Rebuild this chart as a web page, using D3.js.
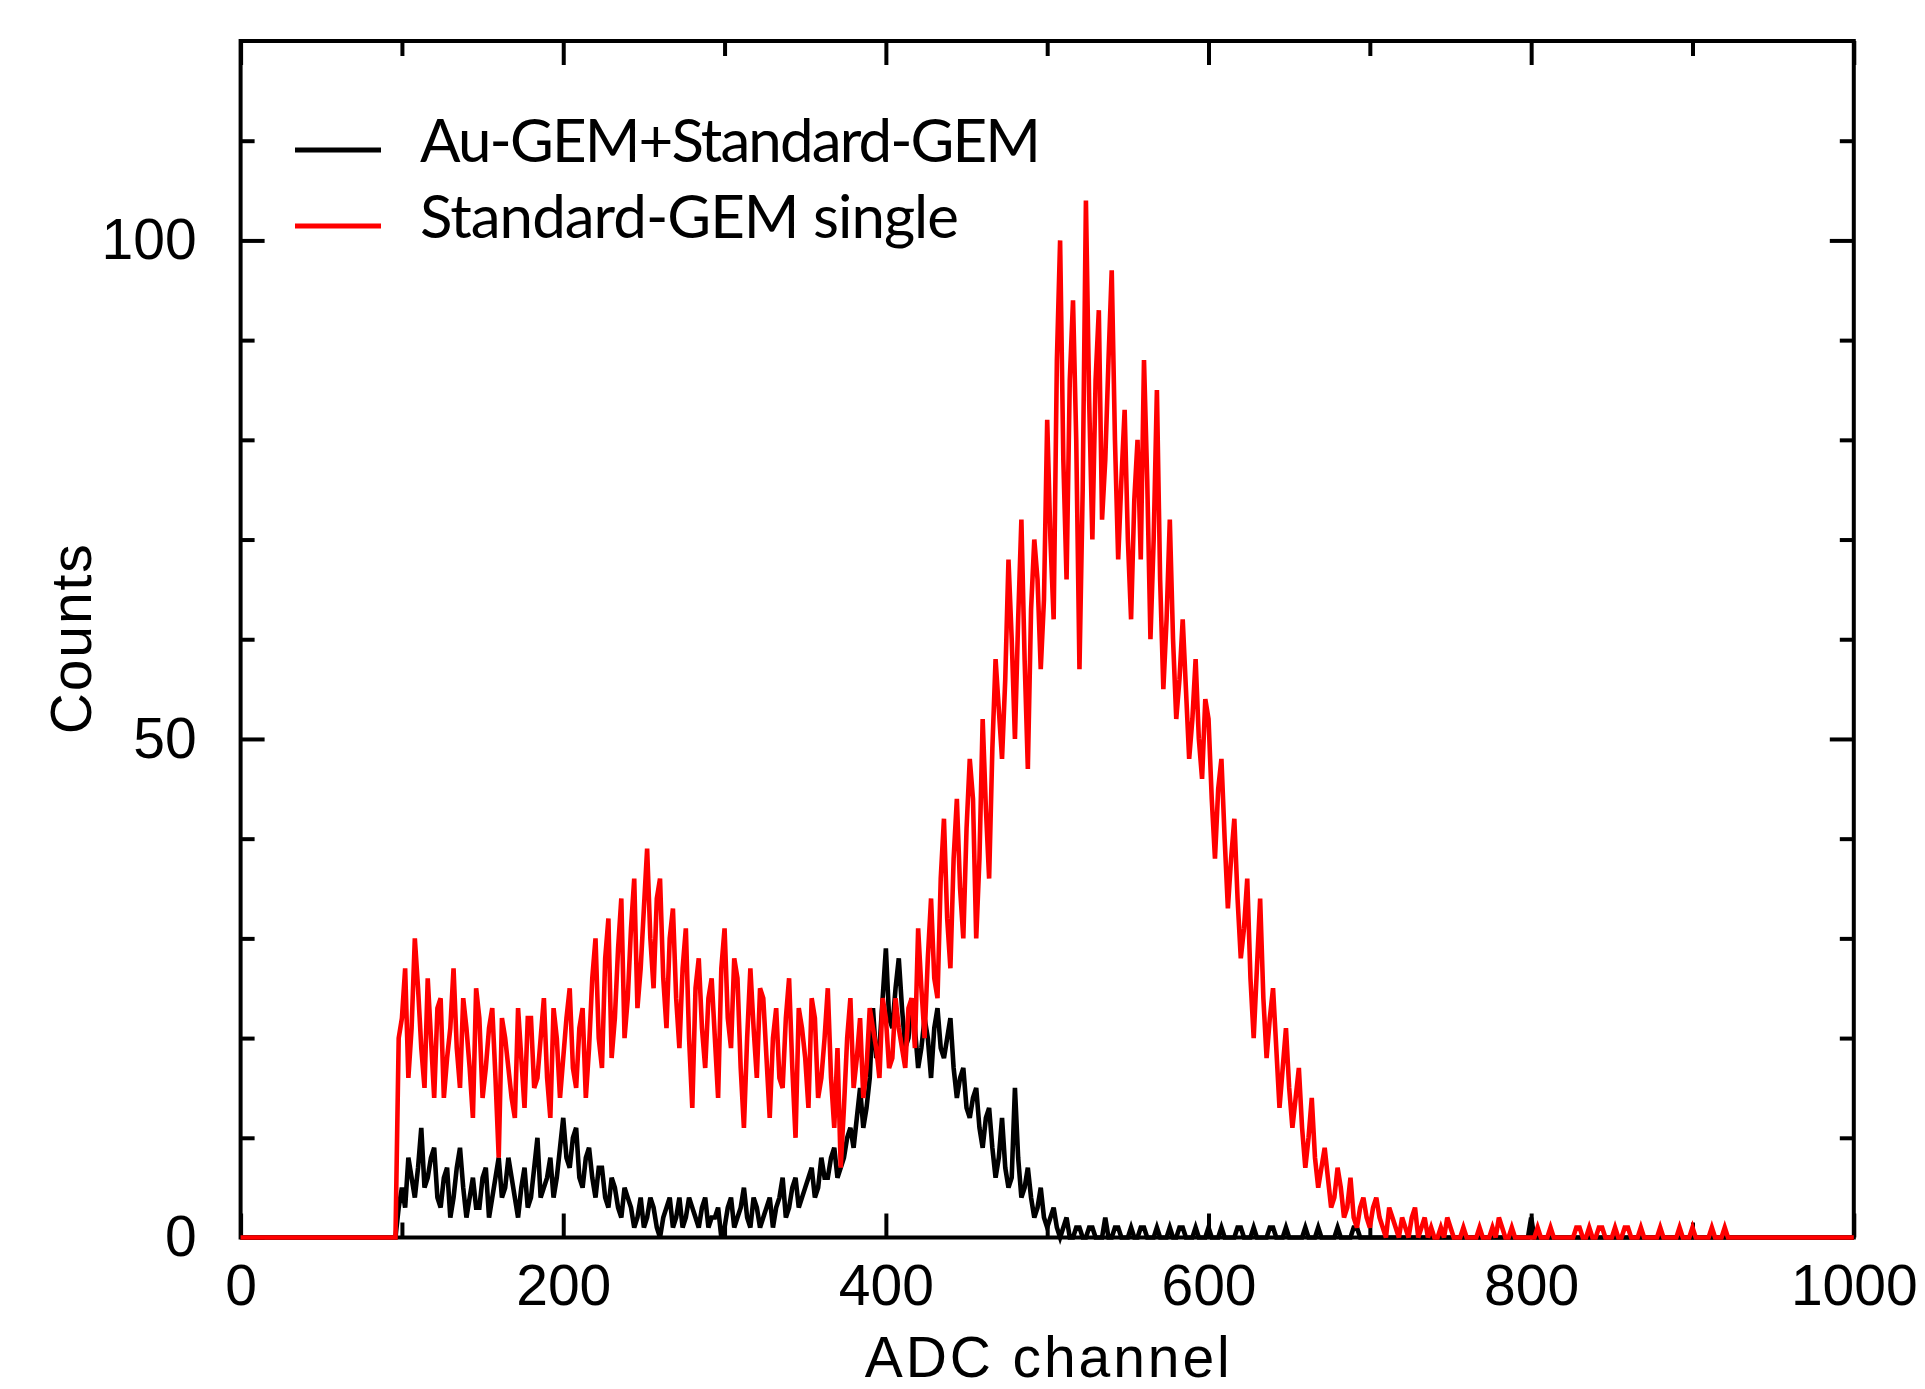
<!DOCTYPE html>
<html>
<head>
<meta charset="utf-8">
<script src="https://cdn.jsdelivr.net/npm/d3@7/dist/d3.min.js"></script>
<style>
  body { margin: 0; background: #fff; }
  svg { display: block; }
  .axis path { display: none; }
  .axis line { stroke: #000; stroke-width: 4; }
  .axis text { font-family: "Liberation Sans", Arial, sans-serif; font-size: 57px; fill: #000; }
</style>
</head>
<body>
<svg id="chart" width="1925" height="1389"></svg>
<script>

// DATA
// counts per 2-channel bin, channel 0 .. 1000 (one row = 100 channels)
var binWidth = 2;

var countsAuGem = [
  0,0,0,0,0,0,0,0,0,0,0,0,0,0,0,0,0,0,0,0,0,0,0,0,0,0,0,0,0,0,0,0,0,0,0,0,0,0,0,0,0,0,0,0,0,0,0,0,0,3,
  5,3,8,6,4,7,11,5,6,8,9,4,3,6,7,2,4,7,9,5,2,4,6,3,3,6,7,2,4,6,8,4,5,8,6,4,2,5,7,3,4,7,10,4,5,6,8,4,6,9,
  12,8,7,10,11,6,5,8,9,6,4,7,7,4,3,6,5,3,2,5,4,3,1,2,4,1,2,4,3,1,0,2,3,4,1,2,4,1,2,4,3,2,1,3,4,1,2,2,3,0,
  1,3,4,1,2,3,5,2,1,4,3,1,2,3,4,1,3,4,6,2,3,5,6,3,4,5,6,7,4,5,8,6,6,8,9,6,7,8,10,11,9,12,15,11,13,16,23,18,19,24,
  29,22,21,25,28,23,19,20,24,21,17,19,22,20,16,21,23,19,18,20,22,17,14,16,17,13,12,14,15,11,9,12,13,9,6,8,12,7,5,6,15,8,4,5,7,4,2,3,5,2,
  1,2,3,1,0,1,2,0,0,1,1,0,0,1,1,0,0,0,2,0,0,1,1,0,0,0,1,0,0,1,1,0,0,0,1,0,0,0,1,0,0,1,1,0,0,0,1,0,0,0,
  1,0,0,0,1,0,0,0,0,1,1,0,0,0,1,0,0,0,0,1,1,0,0,0,1,0,0,0,0,0,1,0,0,0,1,0,0,0,0,0,1,0,0,0,0,1,1,0,0,0,
  0,0,0,0,0,0,0,0,0,0,0,0,0,0,0,0,0,0,0,0,0,0,0,0,0,0,0,0,0,0,0,0,0,0,0,0,0,0,0,0,0,0,0,0,0,0,0,0,0,0,
  2,0,0,0,0,0,0,0,0,0,0,0,0,0,0,0,0,0,0,0,0,0,0,0,0,0,0,0,0,0,0,0,0,0,0,0,0,0,0,0,0,0,0,0,0,0,0,0,0,0,
  0,0,0,0,0,0,0,0,0,0,0,0,0,0,0,0,0,0,0,0,0,0,0,0,0,0,0,0,0,0,0,0,0,0,0,0,0,0,0,0,0,0,0,0,0,0,0,0,0,0,
  0
];

var countsStdGem = [
  0,0,0,0,0,0,0,0,0,0,0,0,0,0,0,0,0,0,0,0,0,0,0,0,0,0,0,0,0,0,0,0,0,0,0,0,0,0,0,0,0,0,0,0,0,0,0,0,0,20,
  22,27,16,21,30,25,19,15,26,20,14,23,24,14,18,21,27,19,15,24,21,17,12,25,22,14,17,21,23,16,8,22,20,17,14,12,23,18,13,22,22,15,16,20,24,16,12,23,20,14,
  18,22,25,17,15,21,23,14,19,26,30,20,17,28,32,18,22,29,34,20,24,31,36,23,27,33,39,30,25,34,36,26,21,30,33,24,19,27,31,20,13,25,28,21,17,24,26,20,14,27,
  31,22,19,28,26,17,11,20,27,21,16,25,24,18,12,20,23,16,15,22,26,17,10,23,21,18,13,24,22,14,16,20,25,16,11,19,7,13,20,24,15,18,22,14,17,23,21,19,16,24,
  22,17,18,24,21,19,17,23,24,19,31,25,20,28,34,26,24,36,42,32,27,38,44,35,30,41,48,44,30,38,52,43,36,49,58,53,48,56,68,60,50,62,72,58,47,63,70,66,57,64,
  82,70,62,88,100,78,66,86,94,80,57,75,104,84,70,86,93,72,78,88,97,80,68,76,83,70,62,74,80,68,88,76,60,70,85,66,55,62,72,60,52,56,62,55,48,52,58,50,46,54,
  52,44,38,45,48,40,33,38,42,34,28,31,36,26,20,27,34,24,18,22,25,19,13,17,21,15,11,14,17,11,7,10,14,8,5,7,9,6,3,4,7,5,2,3,6,2,1,3,4,2,
  1,3,4,2,1,0,3,2,1,0,2,1,0,2,3,0,1,2,0,1,0,0,1,0,2,1,0,0,0,1,0,0,0,0,1,0,0,0,1,0,2,1,0,0,1,0,0,0,0,0,
  0,0,1,0,0,0,1,0,0,0,0,0,0,0,1,1,0,0,1,0,0,1,1,0,0,0,1,0,0,1,1,0,0,0,1,0,0,0,0,0,1,0,0,0,0,0,1,0,0,0,
  1,0,0,0,0,0,1,0,0,0,1,0,0,0,0,0,0,0,0,0,0,0,0,0,0,0,0,0,0,0,0,0,0,0,0,0,0,0,0,0,0,0,0,0,0,0,0,0,0,0,
  0
];

var seriesNames  = ["Au-GEM+Standard-GEM", "Standard-GEM single"];
var seriesColors = ["#000000", "#ff0000"];

var xMajorTicks = [0, 200, 400, 600, 800, 1000];
var xMinorTicks = [100, 300, 500, 700, 900];
var yMajorTicks = [0, 50, 100];
var yMinorTicks = [10, 20, 30, 40, 60, 70, 80, 90, 110];

(function() {

  // LAYOUT
  var plotLeft = 240.6, plotRight = 1853.8, plotTop = 41, plotBottom = 1237.5;

  var svg = d3.select("#chart");

  var x = d3.scaleLinear().domain([0, 1000]).range([plotLeft, plotRight]);
  var y = d3.scaleLinear().domain([0, 120]).range([plotBottom, plotTop]);

  // frame
  svg.append("rect")
    .attr("x", plotLeft).attr("y", plotTop)
    .attr("width", plotRight - plotLeft).attr("height", plotBottom - plotTop)
    .attr("fill", "none").attr("stroke", "#000").attr("stroke-width", 4);

  // ticks, inward on all four sides
  function ticks(axisFn, scale, values, size, transform) {
    svg.append("g")
      .attr("class", "axis")
      .attr("transform", transform)
      .call(axisFn(scale).tickValues(values).tickSize(-size).tickFormat(""));
  }
  ticks(d3.axisBottom, x, xMajorTicks, 24, "translate(0," + plotBottom + ")");
  ticks(d3.axisBottom, x, xMinorTicks, 15, "translate(0," + plotBottom + ")");
  ticks(d3.axisTop,    x, xMajorTicks, 24, "translate(0," + plotTop + ")");
  ticks(d3.axisTop,    x, xMinorTicks, 15, "translate(0," + plotTop + ")");
  ticks(d3.axisLeft,   y, yMajorTicks, 24, "translate(" + plotLeft + ",0)");
  ticks(d3.axisLeft,   y, yMinorTicks, 14, "translate(" + plotLeft + ",0)");
  ticks(d3.axisRight,  y, yMajorTicks, 24, "translate(" + plotRight + ",0)");
  ticks(d3.axisRight,  y, yMinorTicks, 14, "translate(" + plotRight + ",0)");

  // tick labels
  svg.append("g")
    .attr("class", "axis")
    .attr("transform", "translate(0," + plotBottom + ")")
    .call(d3.axisBottom(x).tickValues(xMajorTicks).tickSize(0).tickPadding(27)
      .tickFormat(d3.format("d")));

  svg.append("g")
    .attr("class", "axis")
    .attr("transform", "translate(" + plotLeft + ",0)")
    .call(d3.axisLeft(y).tickValues(yMajorTicks).tickSize(0).tickPadding(44)
      .tickFormat(d3.format("d")));

  // axis titles
  svg.append("text")
    .attr("x", (plotLeft + plotRight) / 2)
    .attr("y", 1377)
    .attr("text-anchor", "middle")
    .attr("textLength", 365)
    .style("font-family", "'Liberation Sans', Arial, sans-serif")
    .style("font-size", "57px")
    .text("ADC channel");

  svg.append("text")
    .attr("transform", "translate(91," + ((plotTop + plotBottom) / 2) + ") rotate(-90)")
    .attr("text-anchor", "middle")
    .attr("textLength", 190)
    .style("font-family", "'Liberation Sans', Arial, sans-serif")
    .style("font-size", "57px")
    .text("Counts");

  // spectra
  var line = d3.line()
    .x(function(d, i) { return x(i * binWidth); })
    .y(function(d) { return y(d); });

  [countsAuGem, countsStdGem].forEach(function(counts, k) {
    svg.append("path")
      .datum(counts)
      .attr("fill", "none")
      .attr("stroke", seriesColors[k])
      .attr("stroke-width", 4.6)
      .attr("d", line);
  });

  // legend
  var legendY = [150, 226];
  var legendWidths = [621, 539];
  var legend = svg.append("g");
  seriesNames.forEach(function(name, k) {
    legend.append("line")
      .attr("x1", 295).attr("x2", 381)
      .attr("y1", legendY[k]).attr("y2", legendY[k])
      .attr("stroke", seriesColors[k])
      .attr("stroke-width", 5);
    legend.append("text")
      .attr("x", 420)
      .attr("y", legendY[k] + 12)
      .attr("textLength", legendWidths[k])
      .style("font-family", "Lato, 'Open Sans', sans-serif")
      .style("font-size", "60px")
      .text(name);
  });

})();

</script>
</body>
</html>
